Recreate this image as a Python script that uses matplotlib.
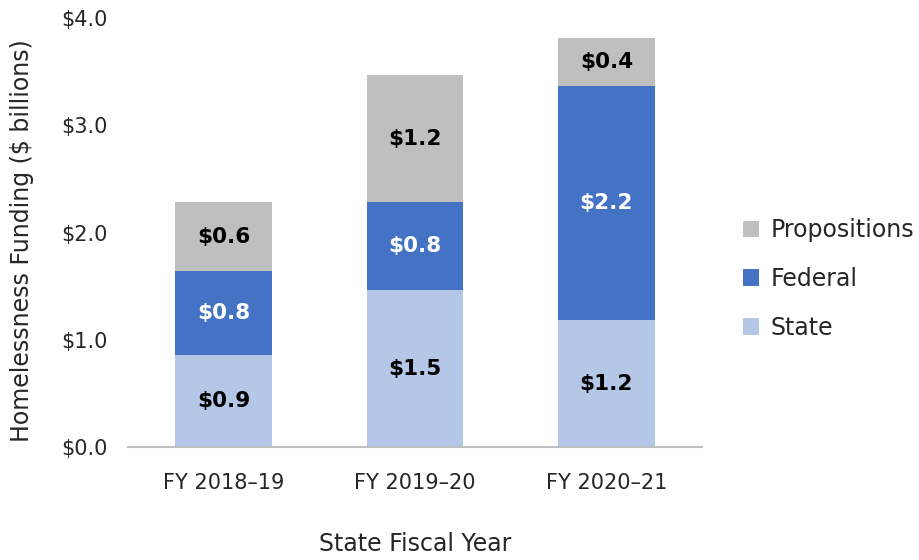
import matplotlib
matplotlib.use("Agg")
import matplotlib.pyplot as plt
import numpy as np

# values in $ billions
years = ["FY 2018\u201319", "FY 2019\u201320", "FY 2020\u201321"]
state = [0.86, 1.46, 1.18]
federal = [0.78, 0.82, 2.19]
propositions = [0.64, 1.19, 0.44]

series = [
    ("State", state, "#B4C7E7", "black"),
    ("Federal", federal, "#4472C4", "white"),
    ("Propositions", propositions, "#BFBFBF", "black"),
]

plt.rcParams["font.family"] = ["DejaVu Sans"]

fig = plt.figure(figsize=(9.19, 5.6), dpi=100)
ax = fig.add_axes([0.1393, 0.2018, 0.6246, 0.766])

x = np.arange(len(years))
bottom = np.zeros(len(years))
handles = []
for name, vals, color, txt in series:
    vals = np.array(vals)
    bars = ax.bar(x, vals, width=0.505, bottom=bottom, color=color, label=name)
    handles.append(bars)
    for xi, b, v in zip(x, bottom, vals):
        ax.text(xi, b + v / 2, f"${v:.1f}", ha="center", va="center",
                color=txt, fontsize=15.5, fontweight="bold")
    bottom += vals

ax.set_xlim(-0.5, len(years) - 0.5)
ax.set_ylim(0, 4.0)
ax.set_yticks([0, 1, 2, 3, 4])
ax.set_yticklabels([f"${v:.1f}" for v in [0, 1, 2, 3, 4]])
ax.set_xticks(x)
ax.set_xticklabels(years)
ax.tick_params(length=0, labelsize=15, colors="#262626")
ax.tick_params(axis="x", pad=19)
ax.tick_params(axis="y", pad=15)

for s in ["top", "right", "left"]:
    ax.spines[s].set_visible(False)
ax.spines["bottom"].set_color("#BFBFBF")
ax.spines["bottom"].set_linewidth(1.5)

ax.set_xlabel("State Fiscal Year", fontsize=17, color="#262626", labelpad=28)
ax.set_ylabel("Homelessness Funding ($ billions)", fontsize=17, color="#262626")
ax.yaxis.set_label_coords(-0.163, 0.48)

leg = ax.legend(handles[::-1], [s[0] for s in series][::-1],
                loc="center left", bbox_to_anchor=(1.05, 0.392), frameon=False,
                fontsize=17, handlelength=0.7, handleheight=0.7,
                handletextpad=0.5, labelspacing=1.05, borderpad=0)
for t in leg.get_texts():
    t.set_color("#262626")

fig.savefig("out.png", dpi=100)
